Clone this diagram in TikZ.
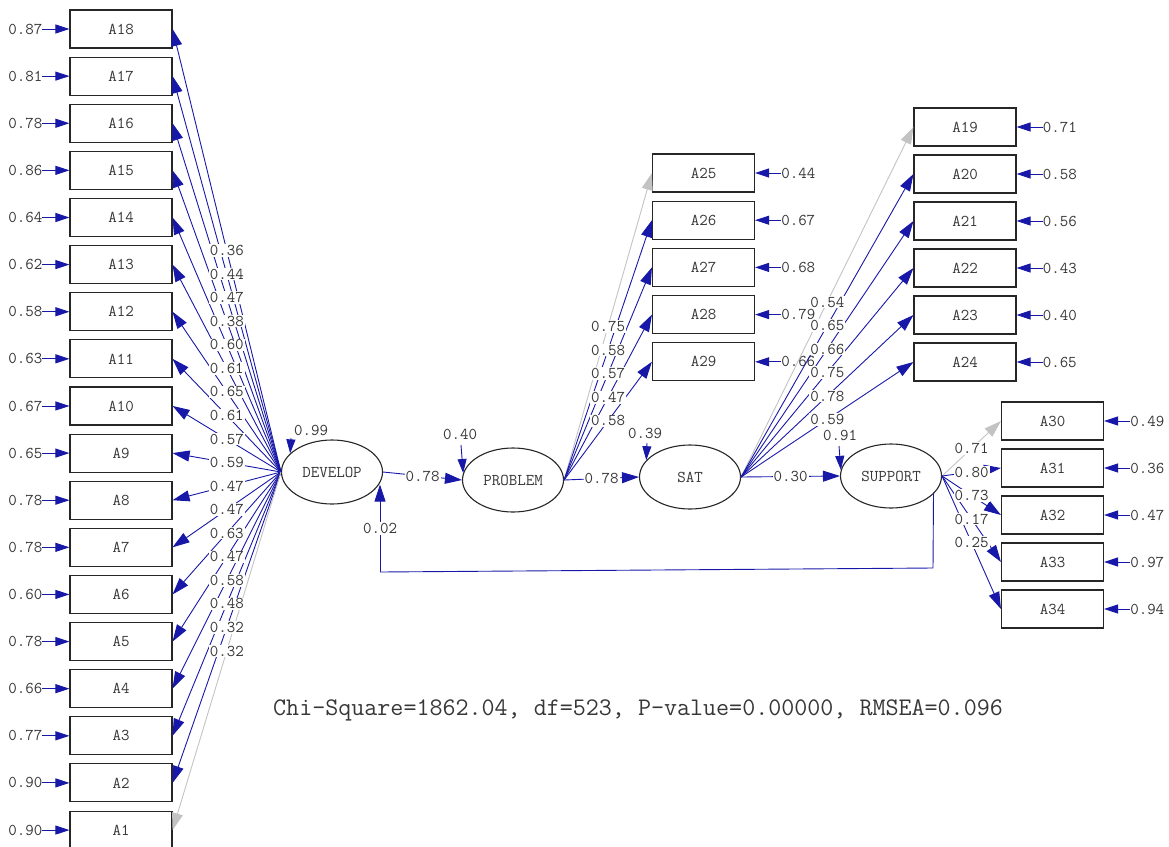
\documentclass[tikz,border=0pt]{standalone}
\usepackage{fontspec}
\newcommand\lisfont{\ttfamily}
\usetikzlibrary{arrows.meta,shapes.geometric}
\definecolor{pathblue}{RGB}{24,24,168}
\definecolor{fixgray}{RGB}{195,195,195}
\definecolor{txtgray}{RGB}{55,55,55}
\begin{document}
\begin{tikzpicture}[x=1pt,y=-1pt,
  obs/.style={draw=black!85, line width=1.1pt, minimum width=102pt, minimum height=38pt, inner sep=0pt, fill=white, font=\lisfont\fontsize{16.5}{16.5}\selectfont, text=txtgray},
  lat/.style={ellipse, draw=black!85, line width=1.1pt, minimum width=101pt, minimum height=64pt, inner sep=0pt, font=\lisfont\fontsize{16.5}{16.5}\selectfont, text=txtgray},
  lab/.style={fill=white, inner sep=1pt, font=\lisfont\fontsize{16.5}{16.5}\selectfont, text=txtgray},
  err/.style={inner sep=0pt, font=\lisfont\fontsize{16.5}{16.5}\selectfont, text=txtgray},
  load/.style={draw=pathblue, line width=0.9pt, -{Triangle[length=17pt,width=11pt]}},
  fixload/.style={draw=fixgray, line width=0.9pt, -{Triangle[length=17pt,width=11pt,fill=fixgray]}},
  errarr/.style={draw=pathblue, line width=0.9pt, -{Triangle[length=14pt,width=9pt]}},
]
\useasboundingbox (0,0) rectangle (1169,846);

% latent variables
\node[lat] (DEV)  at (332,472) {DEVELOP};
\node[lat] (PROB) at (513,480) {PROBLEM};
\node[lat] (SAT)  at (690,477) {SAT};
\node[lat] (SUP)  at (891,476) {SUPPORT};

% left indicators (DEVELOP)
\foreach \i/\e/\s [count=\k from 0] in {18/0.87/load,17/0.81/load,16/0.78/load,15/0.86/load,14/0.64/load,13/0.62/load,12/0.58/load,11/0.63/load,10/0.67/load,9/0.65/load,8/0.78/load,7/0.78/load,6/0.60/load,5/0.78/load,4/0.66/load,3/0.77/load,2/0.90/load,1/0.90/fixload}
{
  \node[obs] (A\i) at (121,{29+\k*47.12}) {A\i};
  \node[err,anchor=east] (e\i) at ([xshift=-27pt]A\i.west) {\e};
  \draw[errarr] (e\i.east) -- (A\i.west);
  \draw[\s] (DEV.west) -- (A\i.east);
}

% PROBLEM indicators
\foreach \i/\e/\s [count=\k from 0] in {25/0.44/fixload,26/0.67/load,27/0.68/load,28/0.79/load,29/0.66/load}
{
  \node[obs] (A\i) at (703.5,{173+\k*47.2}) {A\i};
  \node[err,anchor=west] (e\i) at ([xshift=26pt]A\i.east) {\e};
  \draw[errarr] (e\i.west) -- (A\i.east);
  \draw[\s] (PROB.east) -- (A\i.west);
}

% SAT indicators
\foreach \i/\e/\s [count=\k from 0] in {19/0.71/fixload,20/0.58/load,21/0.56/load,22/0.43/load,23/0.40/load,24/0.65/load}
{
  \node[obs] (A\i) at (965,{127+\k*47}) {A\i};
  \node[err,anchor=west] (e\i) at ([xshift=26pt]A\i.east) {\e};
  \draw[errarr] (e\i.west) -- (A\i.east);
  \draw[\s] (SAT.east) -- (A\i.west);
}

% SUPPORT indicators
\foreach \i/\e/\s [count=\k from 0] in {30/0.49/fixload,31/0.36/load,32/0.47/load,33/0.97/load,34/0.94/load}
{
  \node[obs] (A\i) at (1052.5,{421+\k*47}) {A\i};
  \node[err,anchor=west] (e\i) at ([xshift=26pt]A\i.east) {\e};
  \draw[errarr] (e\i.west) -- (A\i.east);
  \draw[\s] (SUP.east) -- (A\i.west);
}

% structural paths
\draw[load] (DEV.east) -- node[lab]{0.78} (PROB.west);
\draw[load] (PROB.east) -- node[lab]{0.78} (SAT.west);
\draw[load] (SAT.east) -- node[lab]{0.30} (SUP.west);
\coordinate (fb1) at (933,568);
\coordinate (fb2) at (380,572);
\draw[pathblue, line width=0.9pt] (SUP.337) -- (fb1) -- (fb2);
\draw[load] (fb2) -- node[lab]{0.02} (fb2 |- DEV.345);

% latent errors
\node[err] (zDEV) at (311,430) {0.99};
\coordinate (dDEV) at (291,438);
\draw[errarr] (dDEV) -- (DEV.156);
\node[err] (zPROB) at (460,434) {0.40};
\coordinate (dPROB) at (461,445);
\draw[errarr] (dPROB) -- (PROB.172);
\node[err] (zSAT) at (645,433) {0.39};
\coordinate (dSAT) at (647,443);
\draw[errarr] (dSAT) -- (SAT.159);
\node[err] (zSUP) at (840,435) {0.91};
\coordinate (dSUP) at (839,446);
\draw[errarr] (dSUP) -- (SUP.173);

% loading labels
\foreach \i/\l in {18/0.36,17/0.44,16/0.47,15/0.38,14/0.60,13/0.61,12/0.65,11/0.61,10/0.57,9/0.59,8/0.47,7/0.47,6/0.63,5/0.47,4/0.58,3/0.48,2/0.32,1/0.32}
  \path (DEV.west) -- node[lab]{\l} (A\i.east);
\foreach \i/\l in {25/0.75,26/0.58,27/0.57,28/0.47,29/0.58}
  \path (PROB.east) -- node[lab]{\l} (A\i.west);
\foreach \i/\l in {19/0.54,20/0.65,21/0.66,22/0.75,23/0.78,24/0.59}
  \path (SAT.east) -- node[lab]{\l} (A\i.west);
\foreach \i/\l in {30/0.71,31/0.80,32/0.73,33/0.17,34/0.25}
  \path (SUP.east) -- node[lab]{\l} (A\i.west);

% fit statistics
\node[font=\lisfont\fontsize{25.3}{27}\selectfont, text=txtgray] (chi) at (638,710) {Chi-Square=1862.04, df=523, P-value=0.00000, RMSEA=0.096};
\end{tikzpicture}
\end{document}
